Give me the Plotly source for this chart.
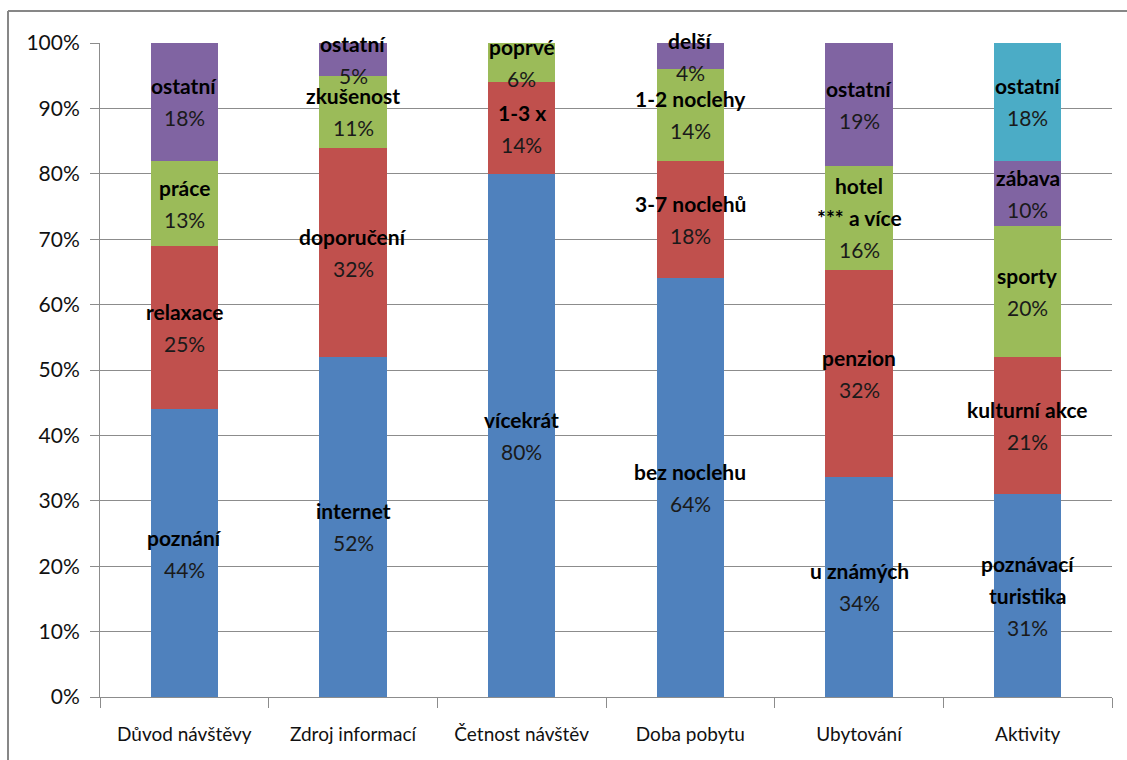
import plotly.graph_objects as go

# Survey categories (x axis)
categories = ["Důvod návštěvy", "Zdroj informací", "Četnost návštěv",
              "Doba pobytu", "Ubytování", "Aktivity"]

# Stacked segments, bottom to top; None = segment not present for that category
seg1_values = [44, 52, 80, 64, 34, 31]
seg1_labels = ["poznání", "internet", "vícekrát", "bez noclehu", "u známých",
               "poznávací<br>turistika"]

seg2_values = [25, 32, 14, 18, 32, 21]
seg2_labels = ["relaxace", "doporučení", "1-3 x", "3-7 noclehů", "penzion",
               "kulturní akce"]

seg3_values = [13, 11, 6, 14, 16, 20]
seg3_labels = ["práce", "zkušenost", "poprvé", "1-2 noclehy",
               "hotel<br>*** a více", "sporty"]

seg4_values = [18, 5, None, 4, 19, 10]
seg4_labels = ["ostatní", "ostatní", None, "delší", "ostatní", "zábava"]

seg5_values = [None, None, None, None, None, 18]
seg5_labels = [None, None, None, None, None, "ostatní"]

tick_values = [0, 10, 20, 30, 40, 50, 60, 70, 80, 90, 100]
tick_labels = ["0%", "10%", "20%", "30%", "40%", "50%", "60%", "70%",
               "80%", "90%", "100%"]

seg_colors = ["#4F81BD", "#C0504D", "#9BBB59", "#8064A2", "#4BACC6"]

segments = [
    (seg1_values, seg1_labels),
    (seg2_values, seg2_labels),
    (seg3_values, seg3_labels),
    (seg4_values, seg4_labels),
    (seg5_values, seg5_labels),
]

FONT = "Lato"
LINE_STEP = 32  # px between label lines

fig = go.Figure()
for (vals, _), color in zip(segments, seg_colors):
    fig.add_trace(go.Bar(
        x=categories, y=vals, marker=dict(color=color, line=dict(width=0)),
        hoverinfo="skip", showlegend=False,
    ))

# Data labels centred in each (normalised) segment, one annotation per line
annotations = []
for i, cat in enumerate(categories):
    total = sum(s[0][i] for s in segments if s[0][i])
    cum = 0.0
    for vals, labels in segments:
        v = vals[i]
        if not v:
            continue
        share = v / total * 100
        mid = cum + share / 2
        cum += share
        lines = [(f"<b>{t}</b>", "#000") for t in labels[i].split("<br>")]
        lines.append((f"{v}%", "#1a1a1a"))
        n = len(lines)
        for k, (txt, col) in enumerate(lines):
            annotations.append(dict(
                x=cat, y=mid, xref="x", yref="y", showarrow=False,
                text=txt, font=dict(family=FONT, size=21, color=col),
                xanchor="center", yanchor="middle",
                yshift=((n - 1) / 2 - k) * LINE_STEP,
            ))

fig.update_layout(
    barmode="stack",
    barnorm="percent",
    bargap=0.6,
    width=1127, height=760,
    margin=dict(l=100, r=15, t=43, b=63),
    paper_bgcolor="white",
    plot_bgcolor="white",
    font=dict(family=FONT, color="#000"),
    annotations=annotations,
    shapes=[
        # outer chart frame (left and top edges)
        dict(type="line", xref="paper", yref="paper",
             x0=-0.0909, x1=-0.0909, y0=-0.2, y1=1.049,
             line=dict(color="#878787", width=2), layer="below"),
        dict(type="line", xref="paper", yref="paper",
             x0=-0.0909, x1=1.1, y0=1.049, y1=1.049,
             line=dict(color="#878787", width=2), layer="below"),
    ],
)

fig.update_yaxes(
    range=[0, 100], tickvals=tick_values, ticktext=tick_labels,
    showgrid=True, gridcolor="#8c8c8c", gridwidth=1,
    showline=True, linecolor="#8c8c8c", linewidth=1,
    ticks="outside", ticklen=9, tickcolor="#8c8c8c",
    ticklabelstandoff=6,
    tickfont=dict(family=FONT, size=21, color="#111"),
    zeroline=False,
)
fig.update_xaxes(
    showline=True, linecolor="#8c8c8c", linewidth=1,
    ticks="outside", ticklen=10, tickcolor="#8c8c8c", tickson="boundaries",
    tickfont=dict(family=FONT, size=19, color="#111"),
    ticklabelstandoff=20,
)

fig.write_html("out.html")
